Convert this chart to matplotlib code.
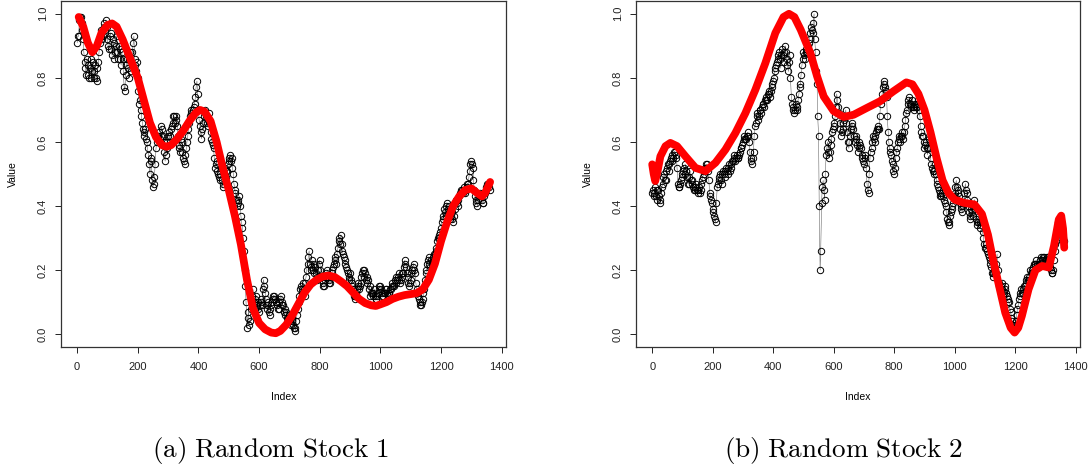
import numpy as np
import matplotlib
matplotlib.use('Agg')
import matplotlib.pyplot as plt

plt.rcParams['font.family'] = ['Liberation Sans', 'DejaVu Sans']
plt.rcParams['mathtext.fontset'] = 'cm'

### ------------------- Data -------------------

# black points: read every 5 index steps (idx 0, 5, 10, ...)
stock1 = [
    0.91, 0.93, 0.99, 0.97, 0.92, 0.85, 0.81, 0.84, 0.80, 0.86,
    0.82, 0.80, 0.84, 0.79, 0.85, 0.91, 0.95, 0.93, 0.97, 0.98,
    0.92, 0.89, 0.94, 0.87, 0.91, 0.88, 0.93, 0.86, 0.89, 0.84,
    0.86, 0.77, 0.81, 0.86, 0.80, 0.88, 0.84, 0.91, 0.86, 0.82,
    0.80, 0.72, 0.70, 0.66, 0.62, 0.64, 0.60, 0.56, 0.50, 0.54,
    0.46, 0.49, 0.58, 0.61, 0.63, 0.62, 0.64, 0.60, 0.54, 0.58,
    0.62, 0.60, 0.64, 0.66, 0.68, 0.67, 0.65, 0.59, 0.57, 0.60,
    0.55, 0.53, 0.58, 0.62, 0.66, 0.70, 0.68, 0.71, 0.74, 0.79,
    0.70, 0.65, 0.61, 0.66, 0.69, 0.68, 0.65, 0.69, 0.63, 0.60,
    0.58, 0.52, 0.54, 0.50, 0.48, 0.52, 0.46, 0.50, 0.49, 0.51,
    0.54, 0.56, 0.55, 0.50, 0.45, 0.42, 0.41, 0.43, 0.37, 0.33,
    0.26, 0.15, 0.02, 0.07, 0.04, 0.10, 0.14, 0.08, 0.12, 0.10,
    0.07, 0.11, 0.09, 0.17, 0.13, 0.08, 0.10, 0.06, 0.09, 0.11,
    0.12, 0.10, 0.09, 0.08, 0.11, 0.10, 0.09, 0.06, 0.07, 0.04,
    0.06, 0.03, 0.05, 0.02, 0.01, 0.06, 0.10, 0.14, 0.13, 0.16,
    0.12, 0.18, 0.22, 0.26, 0.20, 0.23, 0.19, 0.21, 0.17, 0.20,
    0.23, 0.18, 0.16, 0.15, 0.18, 0.20, 0.17, 0.16, 0.19, 0.21,
    0.24, 0.22, 0.27, 0.30, 0.31, 0.26, 0.24, 0.22, 0.20, 0.18,
    0.19, 0.16, 0.14, 0.11, 0.13, 0.15, 0.14, 0.16, 0.19, 0.20,
    0.19, 0.18, 0.17, 0.15, 0.13, 0.12, 0.14, 0.11, 0.12, 0.14,
    0.15, 0.13, 0.12, 0.13, 0.14, 0.12, 0.13, 0.14, 0.16, 0.15,
    0.18, 0.17, 0.19, 0.16, 0.18, 0.19, 0.23, 0.21, 0.18, 0.15,
    0.17, 0.20, 0.22, 0.19, 0.14, 0.12, 0.10, 0.09, 0.11, 0.14,
    0.19, 0.22, 0.24, 0.21, 0.22, 0.24, 0.25, 0.27, 0.30, 0.31,
    0.33, 0.36, 0.39, 0.37, 0.41, 0.40, 0.36, 0.38, 0.35, 0.39,
    0.42, 0.40, 0.43, 0.44, 0.45, 0.46, 0.44, 0.46, 0.47, 0.51,
    0.54, 0.52, 0.45, 0.42, 0.40, 0.43, 0.44, 0.42, 0.41, 0.44,
    0.46, 0.47, 0.45,
]
# in between (idx 2, 7, 12, ...)
stock1_b = [
    0.93, 0.98, 0.99, 0.95, 0.88, 0.83, 0.86, 0.81, 0.83, 0.80,
    0.85, 0.82, 0.80, 0.83, 0.88, 0.93, 0.92, 0.96, 0.95, 0.96,
    0.90, 0.93, 0.89, 0.92, 0.86, 0.90, 0.88, 0.90, 0.86, 0.88,
    0.82, 0.76, 0.84, 0.83, 0.86, 0.82, 0.88, 0.93, 0.84, 0.85,
    0.76, 0.73, 0.68, 0.64, 0.63, 0.61, 0.58, 0.53, 0.55, 0.48,
    0.47, 0.53, 0.60, 0.62, 0.61, 0.65, 0.62, 0.57, 0.56, 0.60,
    0.63, 0.62, 0.65, 0.68, 0.66, 0.68, 0.62, 0.58, 0.61, 0.57,
    0.54, 0.56, 0.60, 0.64, 0.68, 0.69, 0.70, 0.72, 0.77, 0.75,
    0.67, 0.63, 0.64, 0.68, 0.70, 0.66, 0.67, 0.66, 0.61, 0.59,
    0.55, 0.53, 0.51, 0.49, 0.50, 0.48, 0.47, 0.52, 0.51, 0.53,
    0.55, 0.54, 0.52, 0.47, 0.44, 0.40, 0.42, 0.40, 0.35, 0.30,
    0.20, 0.10, 0.05, 0.03, 0.08, 0.12, 0.10, 0.11, 0.09, 0.08,
    0.09, 0.10, 0.14, 0.15, 0.11, 0.09, 0.07, 0.08, 0.10, 0.12,
    0.11, 0.10, 0.08, 0.10, 0.12, 0.09, 0.07, 0.08, 0.05, 0.05,
    0.04, 0.04, 0.03, 0.02, 0.04, 0.08, 0.12, 0.15, 0.14, 0.14,
    0.16, 0.20, 0.24, 0.22, 0.21, 0.20, 0.22, 0.19, 0.18, 0.22,
    0.20, 0.17, 0.15, 0.17, 0.19, 0.18, 0.16, 0.18, 0.20, 0.22,
    0.23, 0.25, 0.29, 0.28, 0.28, 0.25, 0.23, 0.21, 0.19, 0.17,
    0.17, 0.15, 0.12, 0.12, 0.14, 0.16, 0.15, 0.18, 0.20, 0.18,
    0.17, 0.16, 0.14, 0.12, 0.13, 0.13, 0.12, 0.11, 0.13, 0.15,
    0.14, 0.12, 0.13, 0.14, 0.13, 0.13, 0.14, 0.15, 0.15, 0.17,
    0.16, 0.18, 0.17, 0.17, 0.19, 0.21, 0.22, 0.19, 0.16, 0.16,
    0.19, 0.21, 0.20, 0.16, 0.13, 0.11, 0.09, 0.10, 0.13, 0.17,
    0.20, 0.23, 0.22, 0.23, 0.23, 0.25, 0.26, 0.29, 0.30, 0.32,
    0.35, 0.37, 0.38, 0.40, 0.39, 0.38, 0.37, 0.36, 0.37, 0.41,
    0.41, 0.42, 0.44, 0.45, 0.44, 0.45, 0.45, 0.47, 0.49, 0.53,
    0.53, 0.48, 0.43, 0.41, 0.42, 0.43, 0.43, 0.41, 0.43, 0.45,
    0.47, 0.46,
]

stock2 = [
    0.44, 0.43, 0.46, 0.42, 0.45, 0.41, 0.44, 0.47, 0.50, 0.48,
    0.52, 0.51, 0.54, 0.56, 0.55, 0.57, 0.56, 0.47, 0.46, 0.48,
    0.50, 0.52, 0.53, 0.49, 0.47, 0.51, 0.48, 0.46, 0.45, 0.47,
    0.44, 0.46, 0.45, 0.48, 0.50, 0.52, 0.53, 0.51, 0.44, 0.42,
    0.39, 0.37, 0.35, 0.46, 0.48, 0.50, 0.47, 0.51, 0.49, 0.52,
    0.50, 0.53, 0.52, 0.54, 0.55, 0.54, 0.56, 0.55, 0.57, 0.58,
    0.60, 0.62, 0.61, 0.63, 0.60, 0.55, 0.53, 0.57, 0.65, 0.68,
    0.67, 0.70, 0.69, 0.72, 0.71, 0.74, 0.73, 0.76, 0.74, 0.77,
    0.79, 0.82, 0.84, 0.86, 0.88, 0.83, 0.89, 0.85, 0.90, 0.86,
    0.82, 0.87, 0.74, 0.71, 0.69, 0.72, 0.70, 0.75, 0.78, 0.84,
    0.88, 0.86, 0.89, 0.90, 0.92, 0.96, 0.94, 1.00, 0.88, 0.78,
    0.62, 0.20, 0.41, 0.48, 0.42, 0.56, 0.60, 0.55, 0.59, 0.63,
    0.65, 0.68, 0.75, 0.71, 0.66, 0.62, 0.64, 0.67, 0.70, 0.63,
    0.58, 0.62, 0.66, 0.64, 0.60, 0.62, 0.57, 0.60, 0.58, 0.55,
    0.53, 0.56, 0.47, 0.44, 0.55, 0.58, 0.62, 0.60, 0.63, 0.65,
    0.64, 0.72, 0.75, 0.79, 0.77, 0.74, 0.63, 0.58, 0.56, 0.53,
    0.50, 0.55, 0.58, 0.62, 0.60, 0.63, 0.61, 0.65, 0.69, 0.72,
    0.74, 0.71, 0.73, 0.70, 0.72, 0.71, 0.73, 0.68, 0.63, 0.62,
    0.58, 0.60, 0.56, 0.61, 0.55, 0.52, 0.50, 0.53, 0.48, 0.46,
    0.44, 0.43, 0.45, 0.42, 0.40, 0.36, 0.34, 0.37, 0.39, 0.41,
    0.44, 0.48, 0.45, 0.43, 0.40, 0.38, 0.41, 0.47, 0.44, 0.40,
    0.36, 0.39, 0.37, 0.42, 0.36, 0.34, 0.37, 0.33, 0.35, 0.30,
    0.27, 0.28, 0.25, 0.23, 0.21, 0.18, 0.20, 0.19, 0.25, 0.16,
    0.14, 0.16, 0.12, 0.15, 0.13, 0.11, 0.10, 0.07, 0.04, 0.02,
    0.03, 0.06, 0.09, 0.12, 0.14, 0.13, 0.15, 0.16, 0.18, 0.17,
    0.20, 0.19, 0.21, 0.22, 0.23, 0.21, 0.22, 0.24, 0.23, 0.24,
    0.22, 0.24, 0.23, 0.21, 0.19, 0.20, 0.26, 0.29, 0.33, 0.36,
    0.34, 0.32, 0.29,
]
stock2_b = [
    0.45, 0.44, 0.43, 0.45, 0.43, 0.42, 0.46, 0.49, 0.48, 0.51,
    0.53, 0.53, 0.55, 0.54, 0.57, 0.55, 0.52, 0.46, 0.47, 0.49,
    0.51, 0.50, 0.51, 0.47, 0.49, 0.48, 0.47, 0.45, 0.46, 0.45,
    0.45, 0.44, 0.47, 0.49, 0.51, 0.53, 0.52, 0.48, 0.43, 0.41,
    0.38, 0.36, 0.41, 0.47, 0.49, 0.48, 0.50, 0.50, 0.51, 0.51,
    0.52, 0.51, 0.53, 0.54, 0.56, 0.55, 0.55, 0.56, 0.58, 0.59,
    0.61, 0.61, 0.62, 0.62, 0.57, 0.54, 0.55, 0.62, 0.66, 0.69,
    0.68, 0.70, 0.71, 0.72, 0.73, 0.73, 0.75, 0.75, 0.76, 0.78,
    0.80, 0.83, 0.85, 0.87, 0.86, 0.87, 0.87, 0.88, 0.88, 0.84,
    0.85, 0.80, 0.72, 0.70, 0.70, 0.71, 0.73, 0.77, 0.81, 0.86,
    0.87, 0.88, 0.88, 0.91, 0.94, 0.95, 0.97, 0.92, 0.82, 0.68,
    0.40, 0.26, 0.46, 0.45, 0.50, 0.58, 0.57, 0.57, 0.61, 0.64,
    0.66, 0.71, 0.73, 0.69, 0.64, 0.63, 0.66, 0.68, 0.66, 0.60,
    0.60, 0.64, 0.65, 0.62, 0.61, 0.59, 0.58, 0.59, 0.56, 0.54,
    0.55, 0.52, 0.45, 0.50, 0.57, 0.60, 0.61, 0.62, 0.64, 0.64,
    0.68, 0.73, 0.77, 0.78, 0.76, 0.68, 0.60, 0.57, 0.54, 0.51,
    0.52, 0.57, 0.60, 0.61, 0.62, 0.62, 0.63, 0.67, 0.70, 0.73,
    0.72, 0.72, 0.71, 0.71, 0.71, 0.72, 0.70, 0.65, 0.62, 0.60,
    0.59, 0.58, 0.58, 0.58, 0.53, 0.51, 0.51, 0.50, 0.47, 0.45,
    0.43, 0.44, 0.43, 0.41, 0.38, 0.35, 0.35, 0.38, 0.40, 0.43,
    0.46, 0.46, 0.44, 0.41, 0.39, 0.40, 0.44, 0.45, 0.42, 0.38,
    0.37, 0.38, 0.40, 0.39, 0.35, 0.35, 0.35, 0.34, 0.32, 0.28,
    0.27, 0.26, 0.24, 0.22, 0.19, 0.19, 0.19, 0.22, 0.20, 0.15,
    0.15, 0.14, 0.13, 0.14, 0.12, 0.10, 0.08, 0.05, 0.03, 0.02,
    0.04, 0.08, 0.11, 0.13, 0.13, 0.14, 0.15, 0.17, 0.17, 0.18,
    0.19, 0.20, 0.22, 0.22, 0.22, 0.22, 0.23, 0.23, 0.24, 0.23,
    0.23, 0.24, 0.22, 0.20, 0.19, 0.23, 0.28, 0.31, 0.35, 0.35,
    0.33, 0.30,
]

# smooth fit (red), read at irregular knots
fit1_idx = [5, 20, 35, 50, 65, 80, 100, 115, 130, 150, 175, 200, 220, 240,
            260, 280, 295, 310, 330, 350, 370, 390, 405, 420, 440, 460, 480,
            500, 520, 540, 560, 580, 600, 620, 640, 655, 670, 690, 710, 730,
            750, 770, 790, 810, 830, 850, 870, 890, 910, 930, 950, 970, 985,
            1000, 1020, 1040, 1060, 1080, 1100, 1120, 1140, 1160, 1180, 1200,
            1220, 1240, 1260, 1280, 1300, 1320, 1335, 1345, 1355, 1362]
fit1 = [0.99, 0.96, 0.91, 0.88, 0.90, 0.94, 0.965, 0.97, 0.96, 0.92, 0.86,
        0.80, 0.73, 0.66, 0.615, 0.59, 0.585, 0.59, 0.61, 0.635, 0.665, 0.69,
        0.70, 0.695, 0.665, 0.60, 0.52, 0.45, 0.37, 0.28, 0.17, 0.08, 0.035,
        0.015, 0.005, 0.003, 0.01, 0.03, 0.06, 0.095, 0.13, 0.155, 0.17, 0.18,
        0.183, 0.178, 0.165, 0.15, 0.13, 0.11, 0.097, 0.09, 0.088, 0.093,
        0.10, 0.11, 0.117, 0.122, 0.125, 0.128, 0.14, 0.17, 0.22, 0.29, 0.35,
        0.40, 0.43, 0.45, 0.455, 0.44, 0.43, 0.44, 0.46, 0.475]

fit2_idx = [0, 5, 10, 18, 27, 44, 60, 82, 110, 143, 176, 209, 242, 275, 308,
            341, 374, 407, 434, 452, 470, 491, 523, 545, 567, 600, 633, 666,
            709, 753, 797, 840, 860, 880, 900, 920, 940, 960, 980, 1000, 1030,
            1065, 1090, 1110, 1125, 1144, 1167, 1185, 1198, 1210, 1222, 1244,
            1267, 1289, 1311, 1328, 1344, 1352, 1358, 1362]
fit2 = [0.53, 0.50, 0.478, 0.51, 0.555, 0.587, 0.597, 0.587, 0.555, 0.519,
        0.509, 0.535, 0.576, 0.628, 0.69, 0.763, 0.846, 0.94, 0.99, 1.0, 0.99,
        0.95, 0.877, 0.805, 0.742, 0.696, 0.678, 0.685, 0.706, 0.727, 0.758,
        0.786, 0.78, 0.75, 0.70, 0.63, 0.55, 0.48, 0.44, 0.42, 0.41, 0.405,
        0.375, 0.31, 0.24, 0.161, 0.067, 0.02, 0.005, 0.02, 0.057, 0.14, 0.20,
        0.213, 0.208, 0.275, 0.358, 0.37, 0.33, 0.27]

captions = ['(a) Random Stock 1', '(b) Random Stock 2']


### ------------------- Plot -------------------

def draw_panel(ax, ya, yb, fit_x, fit_y):
    xa = 5 * np.arange(len(ya))
    xb = 2 + 5 * np.arange(len(yb))
    # merge both samplings for the faint connecting line (R type="b")
    x = np.concatenate([xa, xb])
    y = np.concatenate([ya, yb])
    order = np.argsort(x)
    ax.plot(x[order], y[order], '-', color='#555555', lw=0.35, zorder=1)
    ax.plot(x, y, 'o', mfc='none', mec='k', ms=4.6, mew=0.7, zorder=2)
    ax.plot(fit_x, fit_y, '-', color='red', lw=5.6,
            solid_capstyle='round', solid_joinstyle='round', zorder=3)

    ax.set_xlim(-53.4, 1414.4)
    ax.set_ylim(-0.04, 1.04)
    ax.set_xticks(np.arange(0, 1401, 200))
    ax.set_yticks([0.0, 0.2, 0.4, 0.6, 0.8, 1.0])
    ax.set_yticklabels(['0.0', '0.2', '0.4', '0.6', '0.8', '1.0'],
                       rotation=90, va='center')
    ax.tick_params(labelsize=8, length=4.5, width=0.7, direction='out',
                   colors='#222222')
    ax.tick_params(axis='x', pad=6)
    ax.tick_params(axis='y', pad=5)
    for s in ax.spines.values():
        s.set_linewidth(0.9)
        s.set_color('#333333')
    ax.set_xlabel('Index', fontsize=7.5, labelpad=15)
    ax.set_ylabel('Value', fontsize=7.5, labelpad=14)


fig = plt.figure(figsize=(10.91, 4.71), dpi=100)
ax1 = fig.add_axes([0.0559, 0.2633, 0.4079, 0.7346])
ax2 = fig.add_axes([0.5830, 0.2633, 0.4070, 0.7346])

draw_panel(ax1, stock1, stock1_b, fit1_idx, fit1)
draw_panel(ax2, stock2, stock2_b, fit2_idx, fit2)

# captions in a LaTeX-like serif
for ax, cap, xc in zip([ax1, ax2], captions, [270, 844]):
    txt = r'$\mathrm{' + cap.replace(' ', r'\ ') + '}$'
    fig.text(xc / 1091.0, 1 - 451 / 471.0, txt, fontsize=19.5,
             ha='center', va='center')

fig.savefig('out.png', dpi=100)
